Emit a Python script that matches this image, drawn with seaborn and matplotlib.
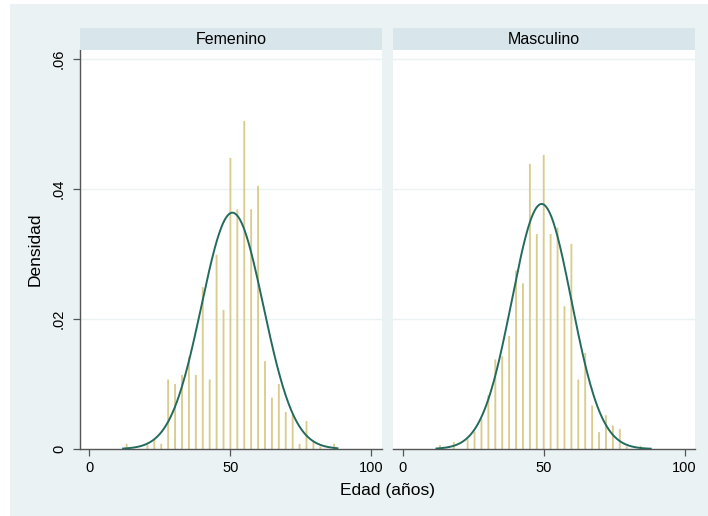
import numpy as np
import pandas as pd
import matplotlib
matplotlib.use("Agg")
import matplotlib.pyplot as plt
from matplotlib.patches import Rectangle
import seaborn as sns

# ---- data ----
panels = ["Femenino", "Masculino"]
bin_start = 13.25          # centre of first bin (years)
bin_width = 2.453          # years
# density per bin, k = 0..30
dens_fem = [0.0008, 0.0, 0.0, 0.0007, 0.0014, 0.0008, 0.0107, 0.0100, 0.0114, 0.0142,
            0.0114, 0.0249, 0.0107, 0.0299, 0.0214, 0.0448, 0.0369, 0.0505, 0.0369, 0.0405,
            0.0135, 0.0079, 0.0100, 0.0057, 0.0053, 0.0008, 0.0043, 0.0011, 0.0004, 0.0, 0.0008]
dens_mas = [0.0006, 0.0, 0.0011, 0.0, 0.0015, 0.0027, 0.0046, 0.0083, 0.0138, 0.0143,
            0.0174, 0.0275, 0.0255, 0.0439, 0.0331, 0.0453, 0.0331, 0.0341, 0.0220, 0.0316,
            0.0107, 0.0148, 0.0067, 0.0026, 0.0052, 0.0036, 0.0031, 0.0004, 0.0, 0.0005, 0.0]
mean_age = [50.75, 49.3]
sd_age = [10.97, 10.58]
age_min = [12.0, 12.0]
age_max = [88.0, 88.0]
xticks = [0, 50, 100]
yticks = [0, 0.02, 0.04, 0.06]
ytick_labels = ["0", ".02", ".04", ".06"]

W, H = 708, 516
BG = "#EAF2F3"
STRIP = "#D8E5EA"
BAR_FACE = "#D9CC8C"
CURVE = "#236A5F"
AXCOL = "#555555"

plt.rcParams["font.family"] = ["Liberation Sans", "DejaVu Sans"]

fig = plt.figure(figsize=(W / 100, H / 100), dpi=100, facecolor="white")
fig.patches.append(Rectangle((10 / W, 0), (W - 10) / W, (H - 4) / H,
                             transform=fig.transFigure, facecolor=BG,
                             edgecolor="none", zorder=-10))

ax_left = [80, 393.3]
ax_w = 301.7
ax_top, ax_bot = 50, 449
strip_h = 22

n = len(dens_fem)
centers = [bin_start + bin_width * k for k in range(n)]
edges = [bin_start - bin_width / 2 + bin_width * k for k in range(n + 1)]

for i, (name, dens) in enumerate(zip(panels, [dens_fem, dens_mas])):
    ax = fig.add_axes([ax_left[i] / W, (H - ax_bot) / H, ax_w / W, (ax_bot - ax_top) / H])
    ax.set_facecolor("white")
    df = pd.DataFrame({"edad": centers, "w": [d * bin_width for d in dens]})
    sns.histplot(data=df, x="edad", weights="w", bins=edges, stat="density",
                 shrink=0.27, color=BAR_FACE, edgecolor="none", linewidth=0,
                 alpha=1, ax=ax, zorder=2)
    for p in ax.patches:
        p.set_snap(False)
    xs = np.linspace(age_min[i], age_max[i], 300)
    ys = np.exp(-0.5 * ((xs - mean_age[i]) / sd_age[i]) ** 2) / (sd_age[i] * np.sqrt(2 * np.pi))
    sns.lineplot(x=xs, y=ys, color=CURVE, linewidth=1.4, ax=ax, zorder=3)

    ax.set_xlim(-3.3, 103.7)
    ax.set_ylim(0, 0.0614)
    for y in yticks[1:]:
        ax.axhline(y, color=BG, linewidth=1.0, zorder=1)
    ax.set_xticks(xticks)
    ax.set_xticklabels([str(t) for t in xticks], fontsize=10.5)
    ax.tick_params(axis="x", direction="out", length=5, width=0.9, color=AXCOL,
                   pad=4, labelcolor="black")
    for s in ["top", "right"]:
        ax.spines[s].set_visible(False)
    ax.spines["bottom"].set_color(AXCOL)
    ax.spines["bottom"].set_linewidth(1.0)
    if i == 0:
        ax.set_yticks(yticks)
        ax.set_yticklabels(ytick_labels, fontsize=10.5, rotation=90, va="center")
        ax.tick_params(axis="y", direction="out", length=5, width=0.9, color=AXCOL, pad=5)
        ax.spines["left"].set_color(AXCOL)
        ax.spines["left"].set_linewidth(1.0)
        ax.set_ylabel("Densidad", fontsize=12.5, labelpad=7)
    else:
        ax.set_yticks([])
        ax.spines["left"].set_visible(False)
        ax.set_ylabel("")
    ax.set_xlabel("")

    sax = fig.add_axes([ax_left[i] / W, (H - ax_top) / H, ax_w / W, strip_h / H])
    sax.set_facecolor(STRIP)
    sax.set_xticks([])
    sax.set_yticks([])
    for s in sax.spines.values():
        s.set_visible(False)
    sax.text(0.5, 0.5, name, ha="center", va="center", fontsize=11.5,
             transform=sax.transAxes)

fig.text(388 / W, 1 - 491 / H, "Edad (años)", ha="center", va="center", fontsize=12.5)

fig.savefig("out.png", dpi=100, facecolor="white")
